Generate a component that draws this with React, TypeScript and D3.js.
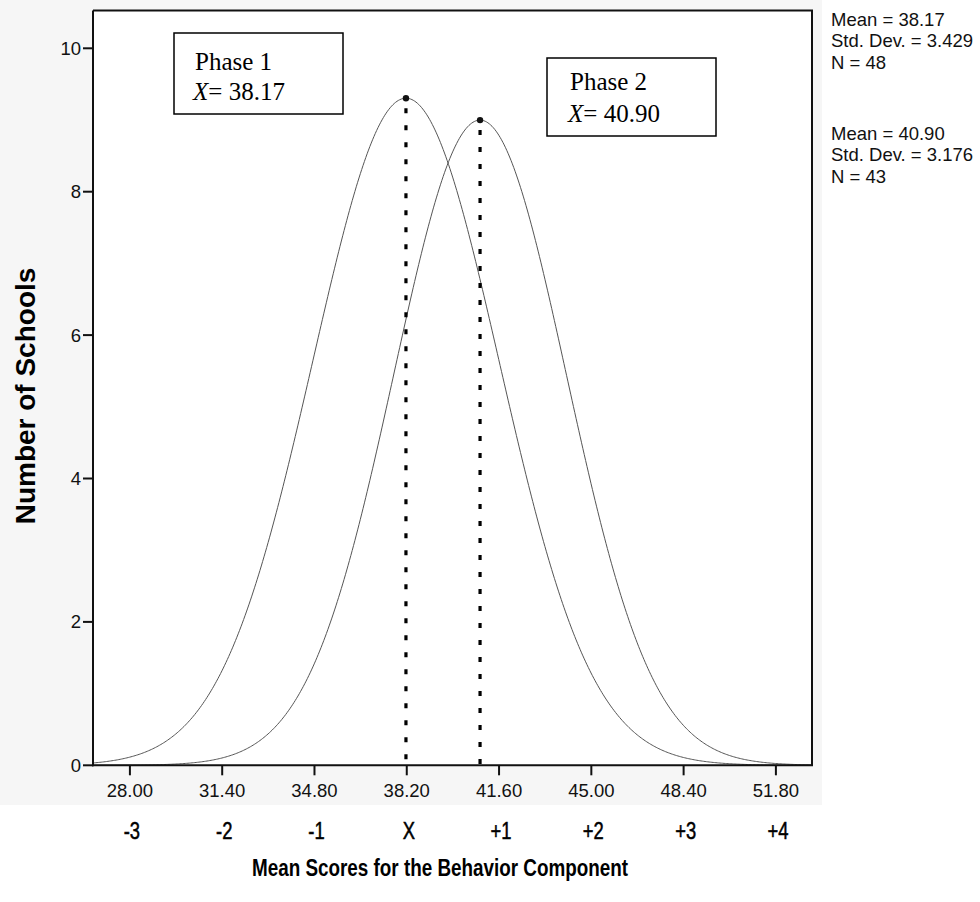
import React from 'react';
import * as d3 from 'd3';

// ---- data ----
const seriesNames = ['Phase 1', 'Phase 2'];
const means = [38.17, 40.9];
const meanLabels = ['38.17', '40.90'];
const stdDevs = [3.429, 3.176];
const stdDevLabels = ['3.429', '3.176'];
const counts = [48, 43];
const binWidth = 1.666; // histogram bin width implied by the fitted curves
const xTicks = [28.0, 31.4, 34.8, 38.2, 41.6, 45.0, 48.4, 51.8];
const sdLabels = ['-3', '-2', '-1', 'X', '+1', '+2', '+3', '+4'];
const yTicks = [0, 2, 4, 6, 8, 10];
const xDomain = [26.64, 53.13];
const yDomain = [0, 10];

const W = 980;
const H = 902;
const left = 93, right = 812, top = 10.5, bottom = 765.3;

export default function App() {
  const x = d3.scaleLinear().domain(xDomain).range([left, right]);
  const y = d3.scaleLinear().domain(yDomain).range([bottom, 48.3]);

  const normal = (v: number, i: number) =>
    (counts[i] * binWidth) / (stdDevs[i] * Math.sqrt(2 * Math.PI)) *
    Math.exp(-0.5 * Math.pow((v - means[i]) / stdDevs[i], 2));

  const samples = d3.range(xDomain[0], xDomain[1] + 0.001, 0.05);
  const line = d3.line<number>();

  const curves = means.map((_, i) =>
    line(samples.map((v) => [x(v), y(normal(v, i))] as [number, number]))
  );

  const boxes = [
    { x0: 174, y0: 33, x1: 343, y1: 114, tx: 195, b1: 70, b2: 100 },
    { x0: 547, y0: 58, x1: 716, y1: 136, tx: 570, b1: 90, b2: 122 },
  ];

  const sans = 'Arial, "Liberation Sans", sans-serif';
  const serif = '"Times New Roman", "Liberation Serif", serif';

  return (
    <svg width={W} height={H} style={{ position: 'absolute', left: 0, top: 0, background: '#fff' }}>
      <rect x={0} y={0} width={822} height={805} fill="#f6f6f6" />
      <rect x={left} y={top} width={right - left} height={bottom - top} fill="#fff" />

      {/* curves */}
      {curves.map((d, i) => (
        <path key={i} d={d || ''} fill="none" stroke="#555" strokeWidth={1} />
      ))}

      {/* dotted mean lines and peak dots */}
      {means.map((m, i) => (
        <g key={i}>
          <line x1={x(m)} x2={x(m)} y1={y(normal(m, i)) + 10} y2={bottom} stroke="#000" strokeWidth={3.2} strokeDasharray="5,12" />
          <circle cx={x(m)} cy={y(normal(m, i))} r={3.2} fill="#111" />
        </g>
      ))}

      {/* frame */}
      <path d={`M${left},${top}H${right}V${bottom}`} fill="none" stroke="#111" strokeWidth={2} />
      <line x1={left} x2={left} y1={top} y2={bottom + 1} stroke="#111" strokeWidth={2} />
      <line x1={left - 1} x2={right + 1} y1={bottom} y2={bottom} stroke="#111" strokeWidth={2} />

      {/* y ticks */}
      {yTicks.map((t) => (
        <g key={t}>
          <line x1={left - 10} x2={left} y1={y(t)} y2={y(t)} stroke="#111" strokeWidth={2} />
          <text x={left - 12} y={y(t) + 6.5} textAnchor="end" fontFamily={sans} fontSize={18.5} fill="#111">{t}</text>
        </g>
      ))}

      {/* x ticks */}
      {xTicks.map((t, i) => (
        <g key={t}>
          <line x1={x(t)} x2={x(t)} y1={bottom} y2={bottom + 10} stroke="#111" strokeWidth={2} />
          <text x={x(t)} y={797} textAnchor="middle" fontFamily={sans} fontSize={18.5} fill="#111">{t.toFixed(2)}</text>
          <g transform={`translate(${x(t) + 2},839) scale(0.8,1)`}>
            <text x={0} y={0} textAnchor="middle" fontFamily={sans} fontSize={23} fill="#000" stroke="#000" strokeWidth={0.5}>{sdLabels[i]}</text>
          </g>
        </g>
      ))}

      {/* axis titles */}
      <g transform="translate(440,876) scale(0.82,1)">
        <text x={0} y={0} textAnchor="middle" fontFamily={sans} fontWeight="bold" fontSize={23} fill="#000">
          Mean Scores for the Behavior Component
        </text>
      </g>
      <text transform="translate(35,396) rotate(-90)" textAnchor="middle" fontFamily={sans} fontWeight="bold" fontSize={28} fill="#000">
        Number of Schools
      </text>

      {/* phase boxes */}
      {boxes.map((b, i) => (
        <g key={i}>
          <rect x={b.x0} y={b.y0} width={b.x1 - b.x0} height={b.y1 - b.y0} fill="#fff" stroke="#000" strokeWidth={1.5} />
          <text x={b.tx} y={b.b1} fontFamily={serif} fontSize={25} fill="#000">{seriesNames[i]}</text>
          <text x={b.tx - 2} y={b.b2} fontFamily={serif} fontSize={25} fill="#000">
            <tspan fontStyle="italic">X</tspan>
            <tspan>= {meanLabels[i]}</tspan>
          </text>
        </g>
      ))}

      {/* statistics legend */}
      {means.map((_, i) => (
        <text key={i} x={831} y={26 + i * 114} fontFamily={sans} fontSize={18.5} fill="#111">
          <tspan x={831} dy={0}>Mean = {meanLabels[i]}</tspan>
          <tspan x={831} dy={21.3}>Std. Dev. = {stdDevLabels[i]}</tspan>
          <tspan x={831} dy={21.3}>N = {counts[i]}</tspan>
        </text>
      ))}
    </svg>
  );
}
